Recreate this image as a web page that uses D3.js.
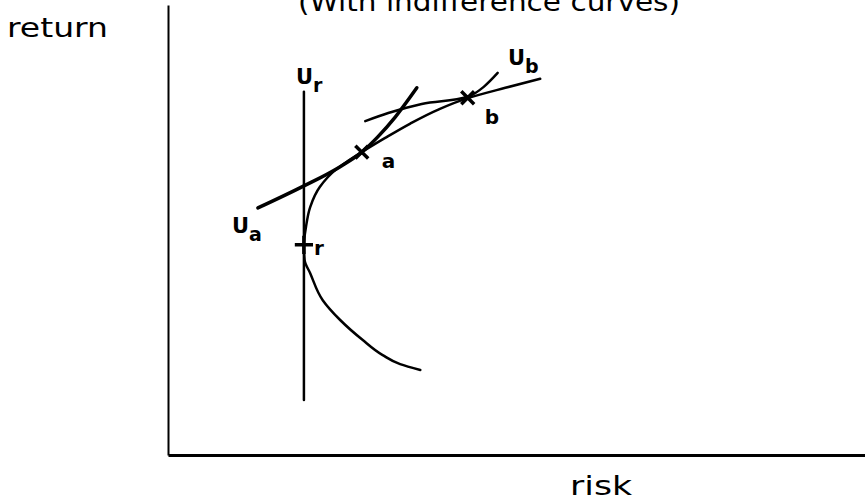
<!DOCTYPE html>
<html>
<head>
<meta charset="utf-8">
<script src="https://cdn.jsdelivr.net/npm/d3@7"></script>
<style>
  body { margin: 0; background: #fff; }
  svg { display: block; }
</style>
</head>
<body>
<script>
/* ----------- data (risk, return in chart units 0-100) ------------ */
var frontierRisk   = [36.2, 33.3, 30.8, 27.9, 24.7, 22.2, 20.4, 19.6, 19.5, 19.8, 20.4, 21.8, 24.0, 25.8, 27.8, 31.1, 34.7, 38.7, 43.0, 48.4, 53.4];
var frontierReturn = [18.9, 20.2, 22.2, 25.6, 30.0, 34.4, 40.4, 43.3, 46.7, 50.7, 55.1, 59.6, 63.3, 65.3, 67.3, 70.4, 73.6, 76.7, 79.3, 81.6, 83.6];

var uaRisk   = [12.9, 19.5, 24.4, 27.8, 30.1, 32.6, 35.7];
var uaReturn = [54.9, 59.8, 63.8, 67.3, 70.7, 75.1, 81.6];

var ubRisk   = [28.3, 31.6, 36.4, 43.0, 45.3, 47.3];
var ubReturn = [74.2, 76.0, 78.0, 79.6, 81.8, 84.9];

var urRisk   = [19.5, 19.5];
var urReturn = [12.2, 80.7];

// chosen portfolios
var pointNames  = ['a', 'b', 'r'];
var pointRisk   = [27.8, 43.0, 19.5];
var pointReturn = [67.3, 79.4, 46.7];
var pointSymbol = ['x', 'x', 'plus'];

var title = '(With indifference curves)';
var xLabel = 'risk';
var yLabel = 'return';

/* ----------- chart ------------ */
var w = 865;
var h = 502;

var x = d3.scaleLinear().domain([0, 100]).range([168, 865]);
var y = d3.scaleLinear().domain([0, 100]).range([455, 5]);

var svg = d3.select('body')
  .append('svg')
  .attr('width', w)
  .attr('height', h);

function zip(xs, ys) {
  return xs.map(function(d, i) { return [d, ys[i]]; });
}

function line(curve) {
  return d3.line()
    .x(function(d) { return x(d[0]); })
    .y(function(d) { return y(d[1]); })
    .curve(curve);
}

// axes without ticks
svg.append('g')
  .attr('transform', 'translate(0,' + y(0) + ')')
  .call(d3.axisBottom(x).ticks(0).tickSizeOuter(0))
  .call(function(g) {
    g.select('.domain').attr('stroke', '#000').attr('stroke-width', 3);
  });

svg.append('g')
  .attr('transform', 'translate(' + x(0) + ',0)')
  .call(d3.axisLeft(y).ticks(0).tickSizeOuter(0))
  .call(function(g) {
    g.select('.domain').attr('stroke', '#000').attr('stroke-width', 2);
  });

// frontier and ur run up the return axis, ua and ub along risk
var curves = [
  { pts: zip(urRisk, urReturn), width: 2.5, curve: d3.curveLinear },
  { pts: zip(frontierRisk, frontierReturn), width: 2.5, curve: d3.curveMonotoneY },
  { pts: zip(uaRisk, uaReturn), width: 3.5, curve: d3.curveMonotoneX },
  { pts: zip(ubRisk, ubReturn), width: 2.5, curve: d3.curveMonotoneX }
];

svg.selectAll('path.curve')
  .data(curves)
  .enter()
  .append('path')
  .attr('class', 'curve')
  .attr('fill', 'none')
  .attr('stroke', '#000')
  .attr('stroke-linecap', 'round')
  .attr('stroke-width', function(d) { return d.width; })
  .attr('d', function(d) { return line(d.curve)(d.pts); });

// markers
svg.selectAll('path.mark')
  .data(pointNames)
  .enter()
  .append('path')
  .attr('class', 'mark')
  .attr('transform', function(d, i) {
    return 'translate(' + x(pointRisk[i]) + ',' + y(pointReturn[i]) + ')';
  })
  .attr('d', function(d, i) {
    var s = pointSymbol[i] == 'x' ? d3.symbolX : d3.symbolPlus;
    return d3.symbol(s, 110)();
  })
  .attr('fill', 'none')
  .attr('stroke', '#000')
  .attr('stroke-width', 3.5);

/* ----------- text ------------ */
var font = '"DejaVu Sans", sans-serif';

svg.append('text')
  .attr('x', 298)
  .attr('y', 11)
  .attr('font-family', font)
  .attr('font-size', 26)
  .attr('textLength', 382)
  .attr('lengthAdjust', 'spacingAndGlyphs')
  .text(title);

svg.append('text')
  .attr('x', 7)
  .attr('y', 37)
  .attr('font-family', font)
  .attr('font-size', 26)
  .attr('textLength', 101)
  .attr('lengthAdjust', 'spacingAndGlyphs')
  .text(yLabel);

svg.append('text')
  .attr('x', 570)
  .attr('y', 495)
  .attr('font-family', font)
  .attr('font-size', 26)
  .attr('textLength', 62)
  .attr('lengthAdjust', 'spacingAndGlyphs')
  .text(xLabel);

// point labels a, b, r
var labelDx = [20, 17, 10];
var labelDy = [16, 26, 10];
svg.selectAll('text.pt')
  .data(pointNames)
  .enter()
  .append('text')
  .attr('class', 'pt')
  .attr('x', function(d, i) { return x(pointRisk[i]) + labelDx[i]; })
  .attr('y', function(d, i) { return y(pointReturn[i]) + labelDy[i]; })
  .attr('font-family', font)
  .attr('font-size', 20)
  .attr('font-weight', 'bold')
  .text(function(d) { return d; });

// curve names U with subscript
var curveNames = ['r', 'a', 'b'];
var curveNameX = [296, 232, 508];
var curveNameY = [84, 233, 65];
var u = svg.selectAll('text.u')
  .data(curveNames)
  .enter()
  .append('text')
  .attr('class', 'u')
  .attr('x', function(d, i) { return curveNameX[i]; })
  .attr('y', function(d, i) { return curveNameY[i]; })
  .attr('font-family', font)
  .attr('font-size', 21)
  .attr('font-weight', 'bold');
u.append('tspan').text('U');
u.append('tspan')
  .attr('dx', 0)
  .attr('dy', 8)
  .attr('font-size', 19)
  .text(function(d) { return d; });
</script>
</body>
</html>
